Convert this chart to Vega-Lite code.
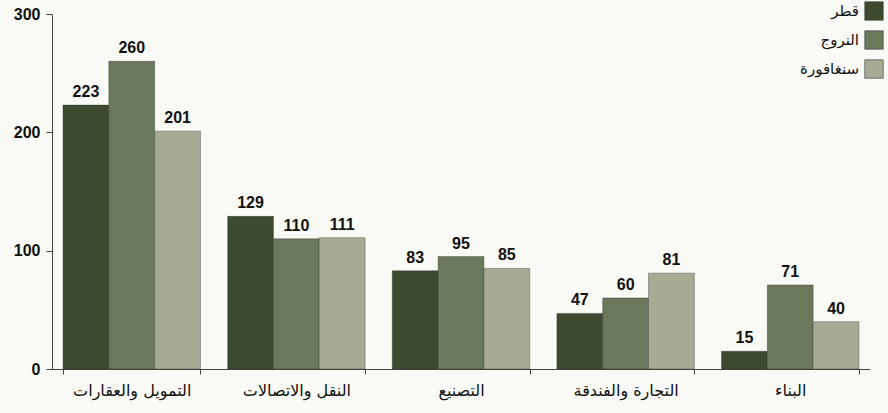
{
  "$schema": "https://vega.github.io/schema/vega-lite/v6.json",
  "width": 818,
  "height": 355,
  "autosize": {"type": "none"},
  "padding": {"left": 52, "top": 14, "right": 18, "bottom": 44},
  "background": "#f9f9f5",
  "config": {"view": {"stroke": null}},
  "data": {
    "values": [
      {"sector": "التمويل والعقارات", "country": "قطر", "value": 223},
      {"sector": "التمويل والعقارات", "country": "النروج", "value": 260},
      {"sector": "التمويل والعقارات", "country": "سنغافورة", "value": 201},
      {"sector": "النقل والاتصالات", "country": "قطر", "value": 129},
      {"sector": "النقل والاتصالات", "country": "النروج", "value": 110},
      {"sector": "النقل والاتصالات", "country": "سنغافورة", "value": 111},
      {"sector": "التصنيع", "country": "قطر", "value": 83},
      {"sector": "التصنيع", "country": "النروج", "value": 95},
      {"sector": "التصنيع", "country": "سنغافورة", "value": 85},
      {"sector": "التجارة والفندقة", "country": "قطر", "value": 47},
      {"sector": "التجارة والفندقة", "country": "النروج", "value": 60},
      {"sector": "التجارة والفندقة", "country": "سنغافورة", "value": 81},
      {"sector": "البناء", "country": "قطر", "value": 15},
      {"sector": "البناء", "country": "النروج", "value": 71},
      {"sector": "البناء", "country": "سنغافورة", "value": 40}
    ]
  },
  "encoding": {
    "x": {
      "field": "sector",
      "type": "nominal",
      "sort": null,
      "scale": {"paddingInner": 0.165, "paddingOuter": 0.067},
      "axis": {
        "title": null,
        "labelAngle": 0,
        "tickBand": "extent",
        "tickSize": 5,
        "labelPadding": 8,
        "labelFont": "DejaVu Sans",
        "labelFontSize": 16,
        "labelColor": "#111",
        "domainColor": "#444",
        "tickColor": "#444"
      }
    },
    "xOffset": {
      "field": "country",
      "type": "nominal",
      "sort": ["قطر", "النروج", "سنغافورة"],
      "scale": {"paddingInner": 0, "paddingOuter": 0}
    },
    "y": {
      "field": "value",
      "type": "quantitative",
      "scale": {"domain": [0, 300]},
      "axis": {
        "title": null,
        "values": [0, 100, 200, 300],
        "grid": false,
        "tickSize": 6,
        "labelPadding": 6,
        "labelFont": "Liberation Sans",
        "labelFontWeight": "bold",
        "labelFontSize": 16,
        "labelColor": "#111",
        "domainColor": "#444",
        "tickColor": "#444"
      }
    }
  },
  "layer": [
    {
      "mark": {"type": "bar", "stroke": "#2a2a2a", "strokeWidth": 0.6, "strokeOpacity": 0.6},
      "encoding": {
        "color": {
          "field": "country",
          "type": "nominal",
          "sort": ["قطر", "النروج", "سنغافورة"],
          "scale": {"domain": ["قطر", "النروج", "سنغافورة"], "range": ["#3d4a2f", "#6b785b", "#a7ab95"]},
          "legend": {
            "title": null,
            "orient": "none",
            "legendX": 812,
            "legendY": -13,
            "symbolType": "square",
            "symbolSize": 340,
            "symbolStrokeWidth": 0.6,
            "symbolStrokeColor": "#333",
            "rowPadding": 7,
            "labelAlign": "right",
            "labelOffset": -25,
            "labelFont": "DejaVu Sans",
            "labelFontSize": 15,
            "labelColor": "#111"
          }
        }
      }
    },
    {
      "mark": {"type": "text", "baseline": "bottom", "dy": -5, "font": "Liberation Sans", "fontWeight": "bold", "fontSize": 16, "color": "#111"},
      "encoding": {"text": {"field": "value", "type": "quantitative"}}
    }
  ]
}
